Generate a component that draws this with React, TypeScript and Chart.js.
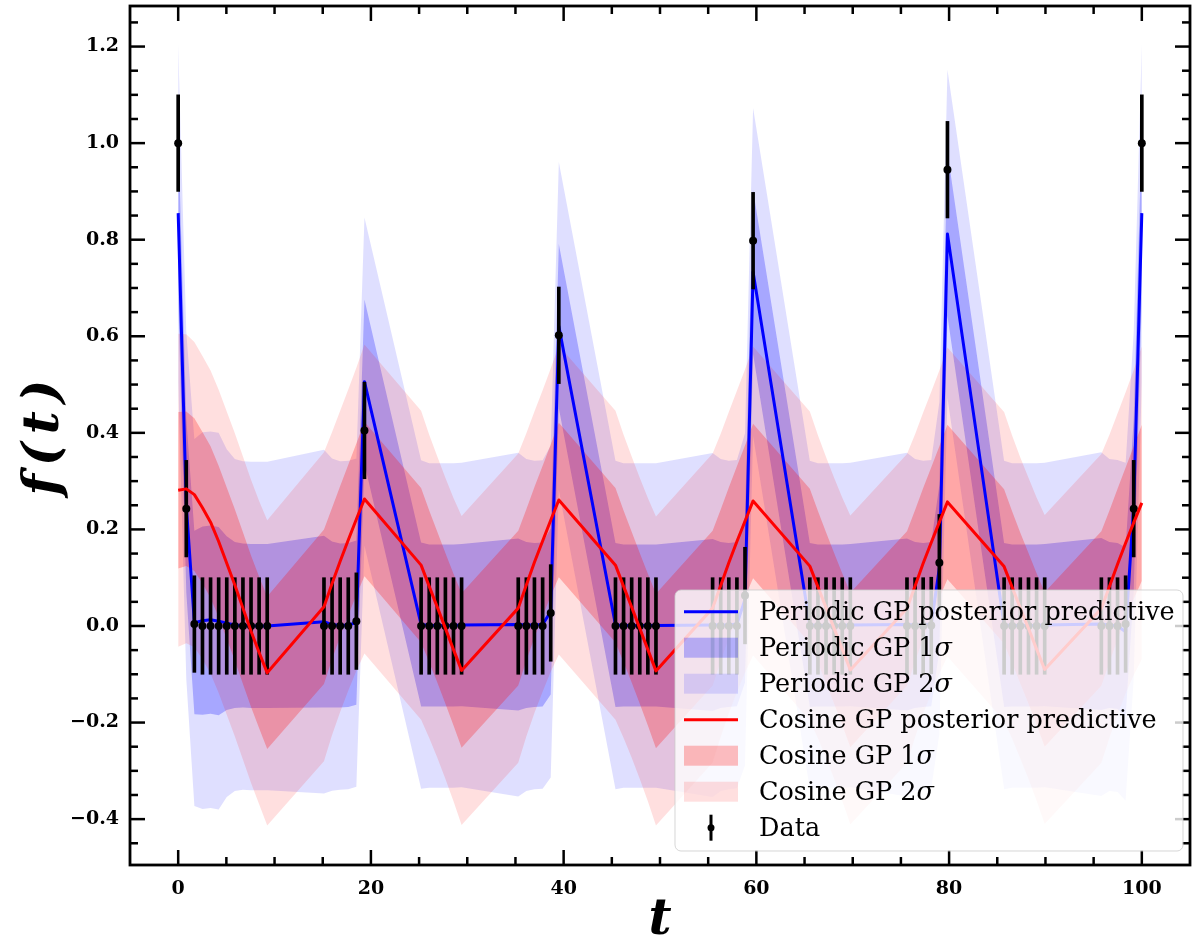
import React, { useEffect, useRef } from "react";
import { Chart, registerables } from "chart.js";

Chart.register(...registerables);

const SERIF = '"DejaVu Serif", "Liberation Serif", serif';

// Observation times (shared grid for data and GP predictions)
const tGrid = [
  0, 0.84, 1.68, 2.52, 3.36, 4.2, 5.04, 5.88, 6.72, 7.56, 8.4, 9.24,
  15.13, 15.97, 16.81, 17.65, 18.49, 19.33,
  25.21, 26.05, 26.89, 27.73, 28.57, 29.41,
  35.29, 36.13, 36.97, 37.82, 38.66, 39.5,
  45.38, 46.22, 47.06, 47.9, 48.74, 49.58,
  55.46, 56.3, 57.14, 57.98, 58.82, 59.66,
  65.55, 66.39, 67.23, 68.07, 68.91, 69.75,
  75.63, 76.47, 77.31, 78.15, 78.99, 79.83,
  85.71, 86.55, 87.39, 88.24, 89.08, 89.92,
  95.8, 96.64, 97.48, 98.32, 99.16, 100,
];

// Observed values f(t) with a fixed measurement error
const observed = [
  1.0, 0.243, 0.004, 0, 0, 0, 0, 0, 0, 0, 0, 0,
  0, 0, 0, 0, 0.01, 0.405,
  0, 0, 0, 0, 0, 0,
  0, 0, 0, 0, 0.027, 0.602,
  0, 0, 0, 0, 0, 0,
  0, 0, 0, 0, 0.063, 0.798,
  0, 0, 0, 0, 0, 0,
  0, 0, 0, 0.001, 0.131, 0.945,
  0, 0, 0, 0, 0, 0,
  0, 0, 0, 0.004, 0.243, 1.0,
];
const OBS_ERR = 0.1;

// Periodic-kernel GP posterior predictive mean and standard deviation
const periodicMean = [
  0.855, 0.25, 0.007, 0.011, 0.013, 0.01, 0.006, 0.002, 0.001, 0.0, 0.0, 0.0,
  0.009, 0.003, 0.001, 0.002, 0.007, 0.506,
  0.003, 0.001, 0.001, 0.001, 0.001, 0.002,
  0.003, 0.002, 0.002, 0.003, 0.03, 0.621,
  0.002, 0.001, 0.001, 0.001, 0.001, 0.001,
  0.002, 0.002, 0.002, 0.004, 0.055, 0.733,
  0.002, 0.001, 0.001, 0.001, 0.001, 0.002,
  0.003, 0.002, 0.002, 0.004, 0.12, 0.812,
  0.002, 0.001, 0.001, 0.001, 0.001, 0.002,
  0.004, 0.002, 0.0, -0.012, 0.25, 0.855,
];
const periodicSd = [
  0.175, 0.18, 0.19, 0.195, 0.195, 0.195, 0.18, 0.172, 0.17, 0.17, 0.17, 0.17,
  0.178, 0.172, 0.17, 0.17, 0.17, 0.17,
  0.17, 0.168, 0.168, 0.168, 0.168, 0.168,
  0.178, 0.172, 0.17, 0.17, 0.172, 0.17,
  0.17, 0.168, 0.168, 0.168, 0.168, 0.168,
  0.178, 0.172, 0.17, 0.17, 0.172, 0.17,
  0.17, 0.168, 0.168, 0.168, 0.168, 0.168,
  0.178, 0.172, 0.17, 0.17, 0.172, 0.17,
  0.17, 0.168, 0.168, 0.168, 0.168, 0.168,
  0.178, 0.172, 0.172, 0.175, 0.18, 0.175,
];

// Cosine-kernel GP posterior predictive mean and standard deviation
const cosineMean = [
  0.281, 0.284, 0.272, 0.245, 0.215, 0.175, 0.13, 0.085, 0.037, -0.011, -0.055, -0.097,
  0.04, 0.088, 0.134, 0.178, 0.221, 0.263,
  0.126, 0.082, 0.039, -0.005, -0.049, -0.092,
  0.037, 0.085, 0.132, 0.176, 0.219, 0.261,
  0.126, 0.082, 0.039, -0.005, -0.049, -0.093,
  0.037, 0.084, 0.131, 0.175, 0.217, 0.259,
  0.124, 0.081, 0.038, -0.005, -0.048, -0.091,
  0.036, 0.083, 0.13, 0.173, 0.215, 0.257,
  0.123, 0.08, 0.037, -0.005, -0.048, -0.09,
  0.036, 0.082, 0.128, 0.172, 0.214, 0.255,
];
const cosineSd = [
  0.162, 0.16, 0.158, 0.157, 0.157, 0.157, 0.157, 0.157, 0.157, 0.157, 0.157, 0.158,
  0.16, 0.157, 0.156, 0.156, 0.157, 0.16,
  0.16, 0.157, 0.156, 0.156, 0.157, 0.16,
  0.16, 0.157, 0.156, 0.156, 0.157, 0.16,
  0.16, 0.157, 0.156, 0.156, 0.157, 0.16,
  0.16, 0.157, 0.156, 0.156, 0.157, 0.16,
  0.16, 0.157, 0.156, 0.156, 0.157, 0.16,
  0.16, 0.157, 0.156, 0.156, 0.157, 0.16,
  0.16, 0.157, 0.156, 0.156, 0.157, 0.16,
  0.16, 0.157, 0.156, 0.156, 0.158, 0.162,
];

const xTickValues = [0, 20, 40, 60, 80, 100];
const yTickValues = [-0.4, -0.2, 0.0, 0.2, 0.4, 0.6, 0.8, 1.0, 1.2];

const X_MIN = -5;
const X_MAX = 105;
const Y_MIN = -0.495;
const Y_MAX = 1.284;

const BLUE = "#0000ff";
const RED = "#ff0000";
const BLUE_1S = "rgba(0, 0, 255, 0.25)";
const BLUE_2S = "rgba(0, 0, 255, 0.125)";
const RED_1S = "rgba(255, 0, 0, 0.25)";
const RED_2S = "rgba(255, 0, 0, 0.125)";

const pts = (ys: number[]) => ys.map((y, i) => ({ x: tGrid[i], y }));
const band = (mean: number[], sd: number[], k: number, sign: number) =>
  mean.map((m, i) => ({ x: tGrid[i], y: m + sign * k * sd[i] }));

const hidden = {
  borderColor: "rgba(0,0,0,0)",
  borderWidth: 0,
  pointRadius: 0,
  tension: 0,
};

type LegendEntry = {
  text: string;
  sigma?: boolean;
  kind: "line" | "patch" | "errorbar";
  color: string;
};

const legendEntries: LegendEntry[] = [
  { text: "Periodic GP posterior predictive", kind: "line", color: BLUE },
  { text: "Periodic GP 1", sigma: true, kind: "patch", color: BLUE_1S },
  { text: "Periodic GP 2", sigma: true, kind: "patch", color: BLUE_2S },
  { text: "Cosine GP posterior predictive", kind: "line", color: RED },
  { text: "Cosine GP 1", sigma: true, kind: "patch", color: RED_1S },
  { text: "Cosine GP 2", sigma: true, kind: "patch", color: RED_2S },
  { text: "Data", kind: "errorbar", color: "#000" },
];

function drawLegend(ctx: CanvasRenderingContext2D) {
  const bx = 675, by = 590, bw = 508, bh = 261, r = 6;
  ctx.save();
  ctx.beginPath();
  ctx.moveTo(bx + r, by);
  ctx.arcTo(bx + bw, by, bx + bw, by + bh, r);
  ctx.arcTo(bx + bw, by + bh, bx, by + bh, r);
  ctx.arcTo(bx, by + bh, bx, by, r);
  ctx.arcTo(bx, by, bx + bw, by, r);
  ctx.closePath();
  ctx.fillStyle = "rgba(255,255,255,0.8)";
  ctx.fill();
  ctx.strokeStyle = "rgba(204,204,204,0.8)";
  ctx.lineWidth = 1;
  ctx.stroke();

  const row0 = 611.7, gap = 36, hx0 = 684, hx1 = 738, tx = 759;
  legendEntries.forEach((e, i) => {
    const cy = row0 + gap * i;
    if (e.kind === "line") {
      ctx.strokeStyle = e.color;
      ctx.lineWidth = 3;
      ctx.beginPath();
      ctx.moveTo(hx0, cy);
      ctx.lineTo(hx1, cy);
      ctx.stroke();
    } else if (e.kind === "patch") {
      ctx.fillStyle = e.color;
      ctx.fillRect(hx0, cy - 10, hx1 - hx0, 20);
    } else {
      const cx = (hx0 + hx1) / 2;
      ctx.strokeStyle = "#000";
      ctx.lineWidth = 3;
      ctx.beginPath();
      ctx.moveTo(cx, cy - 13);
      ctx.lineTo(cx, cy + 13);
      ctx.stroke();
      ctx.fillStyle = "#000";
      ctx.beginPath();
      ctx.arc(cx, cy, 3.5, 0, Math.PI * 2);
      ctx.fill();
    }
    ctx.fillStyle = "#000";
    ctx.textAlign = "left";
    ctx.textBaseline = "alphabetic";
    ctx.font = `25.5px ${SERIF}`;
    ctx.fillText(e.text, tx, cy + 8.5);
    if (e.sigma) {
      const w = ctx.measureText(e.text).width;
      ctx.font = `italic 25.5px ${SERIF}`;
      ctx.fillText("\u03c3", tx + w, cy + 8.5);
    }
  });
  ctx.restore();
}

const decorations = {
  id: "decorations",
  afterDraw(chart: any) {
    const { ctx, chartArea: a, scales } = chart;
    const xs = scales.x;
    const ys = scales.y;
    ctx.save();
    ctx.strokeStyle = "#000";
    ctx.lineCap = "butt";
    ctx.lineWidth = 2.5;
    const seg = (x1: number, y1: number, x2: number, y2: number) => {
      ctx.beginPath();
      ctx.moveTo(x1, y1);
      ctx.lineTo(x2, y2);
      ctx.stroke();
    };
    // inward ticks on all four sides
    for (let v = X_MIN + 5; v < X_MAX; v += 5) {
      const len = v % 20 === 0 ? 15 : 8;
      const px = xs.getPixelForValue(v);
      seg(px, a.bottom, px, a.bottom - len);
      seg(px, a.top, px, a.top + len);
    }
    for (let i = -9; i <= 25; i++) {
      const v = i * 0.05;
      if (v <= Y_MIN || v >= Y_MAX) continue;
      const len = i % 4 === 0 ? 15 : 8;
      const py = ys.getPixelForValue(v);
      seg(a.left, py, a.left + len, py);
      seg(a.right, py, a.right - len, py);
    }
    ctx.lineWidth = 2.8;
    ctx.strokeRect(a.left, a.top, a.right - a.left, a.bottom - a.top);

    // axis titles
    ctx.fillStyle = "#000";
    ctx.font = `bold italic 50px ${SERIF}`;
    ctx.textAlign = "center";
    ctx.textBaseline = "alphabetic";
    ctx.fillText("t", (a.left + a.right) / 2, 934);
    ctx.save();
    ctx.translate(45, (a.top + a.bottom) / 2 + 2);
    ctx.rotate(-Math.PI / 2);
    ctx.textBaseline = "middle";
    (ctx as any).letterSpacing = "8px";
    ctx.fillText("f(t)", 4, 0);
    ctx.restore();

    drawLegend(ctx);
    ctx.restore();
  },
};

const fmt = (v: number) => {
  const s = Math.abs(v) < 1e-9 ? "0.0" : Math.abs(v).toFixed(1);
  return v < -1e-9 ? "\u2212" + s : s;
};

export default function App() {
  const ref = useRef<HTMLCanvasElement | null>(null);

  useEffect(() => {
    if (!ref.current) return;
    const chart = new Chart(ref.current, {
      type: "line",
      data: {
        datasets: [
          { ...hidden, data: band(periodicMean, periodicSd, 2, -1), fill: false, order: 10 },
          { ...hidden, data: band(periodicMean, periodicSd, 2, 1), fill: 0, backgroundColor: BLUE_2S, order: 10 },
          { ...hidden, data: band(periodicMean, periodicSd, 1, -1), fill: false, order: 9 },
          { ...hidden, data: band(periodicMean, periodicSd, 1, 1), fill: 2, backgroundColor: BLUE_1S, order: 9 },
          { ...hidden, data: band(cosineMean, cosineSd, 2, -1), fill: false, order: 8 },
          { ...hidden, data: band(cosineMean, cosineSd, 2, 1), fill: 4, backgroundColor: RED_2S, order: 8 },
          { ...hidden, data: band(cosineMean, cosineSd, 1, -1), fill: false, order: 7 },
          { ...hidden, data: band(cosineMean, cosineSd, 1, 1), fill: 6, backgroundColor: RED_1S, order: 7 },
          {
            data: pts(periodicMean),
            borderColor: BLUE,
            borderWidth: 3,
            pointRadius: 0,
            tension: 0,
            fill: false,
            borderJoinStyle: "round",
            order: 3,
          },
          {
            type: "bar",
            data: tGrid.map((t, i) => ({ x: t, y: [observed[i] - OBS_ERR, observed[i] + OBS_ERR] })),
            backgroundColor: "#000",
            borderWidth: 0,
            barThickness: 3,
            order: 2,
          } as any,
          {
            data: pts(observed),
            showLine: false,
            pointRadius: 4,
            pointBackgroundColor: "#000",
            pointBorderWidth: 0,
            fill: false,
            order: 1,
          },
          {
            data: pts(cosineMean),
            borderColor: RED,
            borderWidth: 3,
            pointRadius: 0,
            tension: 0,
            fill: false,
            borderJoinStyle: "round",
            order: 0,
          },
        ],
      },
      options: {
        responsive: false,
        animation: false,
        devicePixelRatio: 1,
        events: [],
        layout: { padding: { top: 6, right: 10, left: 0, bottom: 0 } },
        plugins: {
          legend: { display: false },
          tooltip: { enabled: false },
          filler: { drawTime: "beforeDatasetsDraw" },
        },
        scales: {
          x: {
            type: "linear",
            min: X_MIN,
            max: X_MAX,
            offset: false,
            grid: { display: false, drawTicks: false },
            border: { display: false },
            afterBuildTicks: (s: any) => {
              s.ticks = xTickValues.map((v) => ({ value: v }));
            },
            afterFit: (s: any) => {
              s.height = 77;
              s.paddingLeft = 0;
              s.paddingRight = 0;
            },
            ticks: {
              autoSkip: false,
              maxRotation: 0,
              color: "#000",
              padding: 13,
              font: { family: SERIF, size: 19, weight: "bold" },
              callback: (v: any) => String(Math.round(Number(v))),
            },
          },
          y: {
            type: "linear",
            min: Y_MIN,
            max: Y_MAX,
            grid: { display: false, drawTicks: false },
            border: { display: false },
            afterBuildTicks: (s: any) => {
              s.ticks = yTickValues.map((v) => ({ value: v }));
            },
            afterFit: (s: any) => {
              s.width = 130;
              s.paddingTop = 0;
              s.paddingBottom = 0;
            },
            ticks: {
              autoSkip: false,
              color: "#000",
              padding: 11,
              font: { family: SERIF, size: 19, weight: "bold" },
              callback: (v: any) => fmt(Number(v)),
            },
          },
        },
      } as any,
      plugins: [decorations],
    });
    return () => chart.destroy();
  }, []);

  return (
    <div style={{ position: "absolute", left: 0, top: 0, width: 1200, height: 942, background: "#fff" }}>
      <canvas ref={ref} width={1200} height={942} style={{ display: "block" }} />
    </div>
  );
}
